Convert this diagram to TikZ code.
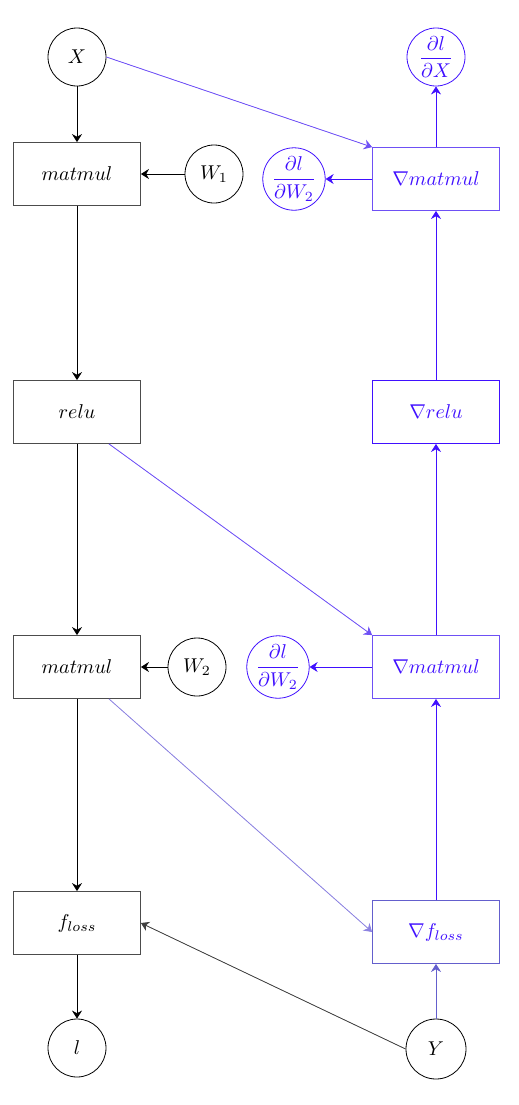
\documentclass[tikz,border=0pt]{standalone}
\usepackage{amsmath}
\usetikzlibrary{arrows.meta,calc}
\definecolor{gtext}{RGB}{64,16,255}
\definecolor{glight}{RGB}{110,80,245}
\definecolor{gpale}{RGB}{140,130,225}
\definecolor{gslate}{RGB}{100,95,205}
\begin{document}
\begin{tikzpicture}[x=0.5pt,y=-0.5pt,
  fbox/.style={draw=black!70, rectangle, minimum width=63.5pt, minimum height=31.5pt, inner sep=0pt},
  bbox/.style={draw=glight, text=gtext, rectangle, minimum width=63.5pt, minimum height=31.5pt, inner sep=0pt},
  var/.style={draw, circle, minimum size=29pt, inner sep=0pt},
  gvar/.style={var, draw=gtext, text=gtext},
  arr/.style={-{Stealth[length=4pt,width=5pt]}},
  barr/.style={arr, draw=gtext, fill=gtext},
]
\useasboundingbox (0,0) rectangle (519,1105);
% forward
\node[var] (X) at (77,57) {$X$};
\node[fbox] (mm1) at (77,174) {$matmul$};
\node[var] (W1) at (214,174) {$W_1$};
\node[fbox] (relu) at (77,412) {$relu$};
\node[fbox] (mm2) at (77,667) {$matmul$};
\node[var] (W2) at (197,667) {$W_2$};
\node[fbox] (loss) at (77,923) {$f_{loss}$};
\node[var] (l) at (77,1048) {$l$};
\node[var, minimum size=30pt] (Y) at (436,1049) {$Y$};
% backward
\node[gvar] (dX) at (436,57) {$\dfrac{\partial l}{\partial X}$};
\node[bbox] (gmm1) at (436,179) {$\nabla matmul$};
\node[gvar] (dW2a) at (294,179) {$\dfrac{\partial l}{\partial W_2}$};
\node[bbox, draw=gtext] (grelu) at (436,412) {$\nabla relu$};
\node[bbox] (gmm2) at (436,667) {$\nabla matmul$};
\node[gvar] (dW2b) at (278,667) {$\dfrac{\partial l}{\partial W_2}$};
\node[bbox, draw=gslate] (gloss) at (436,932) {$\nabla f_{loss}$};
% forward edges
\draw[arr] (X) -- (mm1);
\draw[arr] (W1) -- (mm1);
\draw[arr] (mm1) -- (relu);
\draw[arr] (relu) -- (mm2);
\draw[arr] (W2) -- (mm2);
\draw[arr] (mm2) -- (loss);
\draw[arr] (loss) -- (l);
\draw[arr, draw=black!75, fill=black] (Y.west) -- (loss.east);
% backward edges
\draw[barr, draw=gslate, fill=gslate] (Y) -- (gloss);
\draw[barr] (gloss) -- (gmm2);
\draw[barr] (gmm2) -- (grelu);
\draw[barr] (grelu) -- (gmm1);
\draw[barr] (gmm1) -- (dX);
\draw[barr] (gmm1) -- (dW2a);
\draw[barr] (gmm2) -- (dW2b);
\draw[barr, draw=glight] (X.east) -- (gmm1.north west);
\draw[barr, draw=glight] ($(relu.south)!0.5!(relu.south east)$) -- (gmm2.north west);
\draw[barr, draw=gpale, fill=gslate] ($(mm2.south)!0.5!(mm2.south east)$) -- (gloss.west);
\end{tikzpicture}
\end{document}
